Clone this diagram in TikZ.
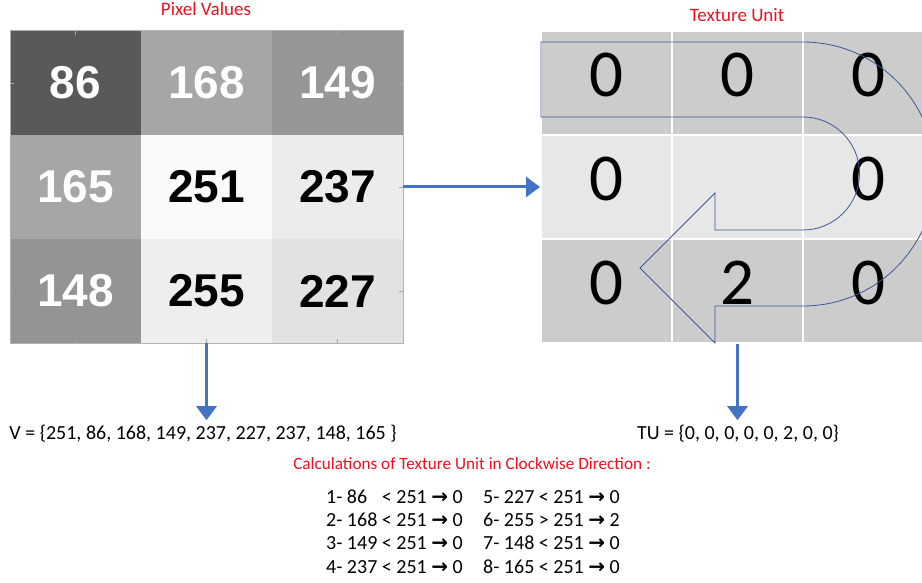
\documentclass[tikz,border=0pt]{standalone}
\usepackage{fontspec}
\setmainfont{Carlito}
\newfontfamily\cellfont{Liberation Sans}
\newfontfamily\symfont{DejaVu Sans}
\usetikzlibrary{arrows.meta}

\definecolor{titlered}{RGB}{240,15,30}
\definecolor{flowblue}{RGB}{68,114,196}
\definecolor{turnblue}{RGB}{58,88,148}
\definecolor{tudark}{RGB}{204,204,204}
\definecolor{tulight}{RGB}{231,231,231}

\newcommand{\arr}{{\symfont\bfseries →}}

\tikzset{
  pixcell/.style={minimum width=131pt, minimum height=104pt, inner sep=0pt,
    font=\cellfont\bfseries\fontsize{46}{46}\selectfont},
  tucell/.style={draw=white, line width=2pt, minimum width=131pt, minimum height=104pt,
    inner sep=0pt, text height=42pt, text depth=15pt, font=\fontsize{67}{67}\selectfont},
  heading/.style={text=titlered, font=\fontsize{19}{22}\selectfont, inner sep=1pt},
  plain/.style={font=\fontsize{20}{24}\selectfont, inner sep=2pt},
  flow/.style={draw=flowblue, line width=3pt, -{Triangle[length=14pt,width=20pt]}},
}

\begin{document}
\begin{tikzpicture}[x=1pt, y=1pt]
  \useasboundingbox (0,0) rectangle (922,-583);
  \clip (0,0) rectangle (922,-583);

  % pixel values
  \foreach \v/\g/\c/\i/\j in {86/89/white/1/1, 168/166/white/2/1, 149/150/white/3/1,
      165/166/white/1/2, 251/250/black/2/2, 237/236/black/3/2,
      148/148/white/1/3, 255/238/black/2/3, 227/226/black/3/3}
    \node[pixcell, fill={rgb,255:red,\g;green,\g;blue,\g}, text=\c] (p\i\j)
      at ({75.5+131*(\i-1)}, {-83-104*(\j-1)}) {\v};
  \draw[gray!60, line width=0.6pt] (p11.north west) rectangle (p33.south east);
  \foreach \k in {1,2,3} {
    \draw[gray!70] (p\k1.north) -- ++(0,-4);
    \draw[gray!70] (p\k3.south) -- ++(0,4);
    \draw[gray!70] (p1\k.west) -- ++(4,0);
    \draw[gray!70] (p3\k.east) -- ++(-4,0);
  }
  \node[heading] (pixtitle) at (206,-9) {Pixel Values};

  % texture unit
  \foreach \v/\f/\i/\j in {0/tudark/1/1, 0/tudark/2/1, 0/tudark/3/1,
      0/tulight/1/2, /tulight/2/2, 0/tulight/3/2,
      0/tudark/1/3, 2/tudark/2/3, 0/tudark/3/3}
    \node[tucell, fill=\f] (t\i\j) at ({606.5+131*(\i-1)}, {-83-104*(\j-1)}) {\v};
  \node[heading] (tutitle) at (737,-15) {Texture Unit};

  % u-turn
  \draw[turnblue, line width=0.8pt, line join=miter]
    (541,-42) -- (803,-42) arc[start angle=90, end angle=-90, radius=132]
    -- (715,-306) -- (715,-343) -- (640,-268) -- (715,-193) -- (715,-230)
    -- (803,-230) arc[start angle=-90, end angle=90, radius=56.5]
    -- (541,-117) -- cycle;

  % results
  \node[plain] (vset) at (203,-434) {V = \{251, 86, 168, 149, 237, 227, 237, 148, 165 \}};
  \node[plain] (tuset) at (738,-434) {TU = \{0, 0, 0, 0, 0, 2, 0, 0\}};
  \node[heading, font=\fontsize{17.2}{20}\selectfont] (calctitle) at (472,-464)
    {Calculations of Texture Unit in Clockwise Direction :};

  \draw[flow] (p32.east) -- (t12.west);
  \draw[flow] (p23.south) -- ([yshift=3pt]p23.south |- vset.north);
  \draw[flow] (t23.south) -- ([yshift=3pt]t23.south |- tuset.north);

  % clockwise comparisons
  \foreach \n/\x/\y/\txt in {
      c1/326/497/{1- 86\hphantom{0} < 251 \arr{} 0},
      c2/326/520/{2- 168 < 251 \arr{} 0},
      c3/326/543/{3- 149 < 251 \arr{} 0},
      c4/326/567/{4- 237 < 251 \arr{} 0},
      c5/483/497/{5- 227 < 251 \arr{} 0},
      c6/483/520/{6- 255 > 251 \arr{} 2},
      c7/483/543/{7- 148 < 251 \arr{} 0},
      c8/483/567/{8- 165 < 251 \arr{} 0}}
    \node[plain, anchor=west, inner sep=0pt] (\n) at (\x,-\y) {\txt};
\end{tikzpicture}
\end{document}
